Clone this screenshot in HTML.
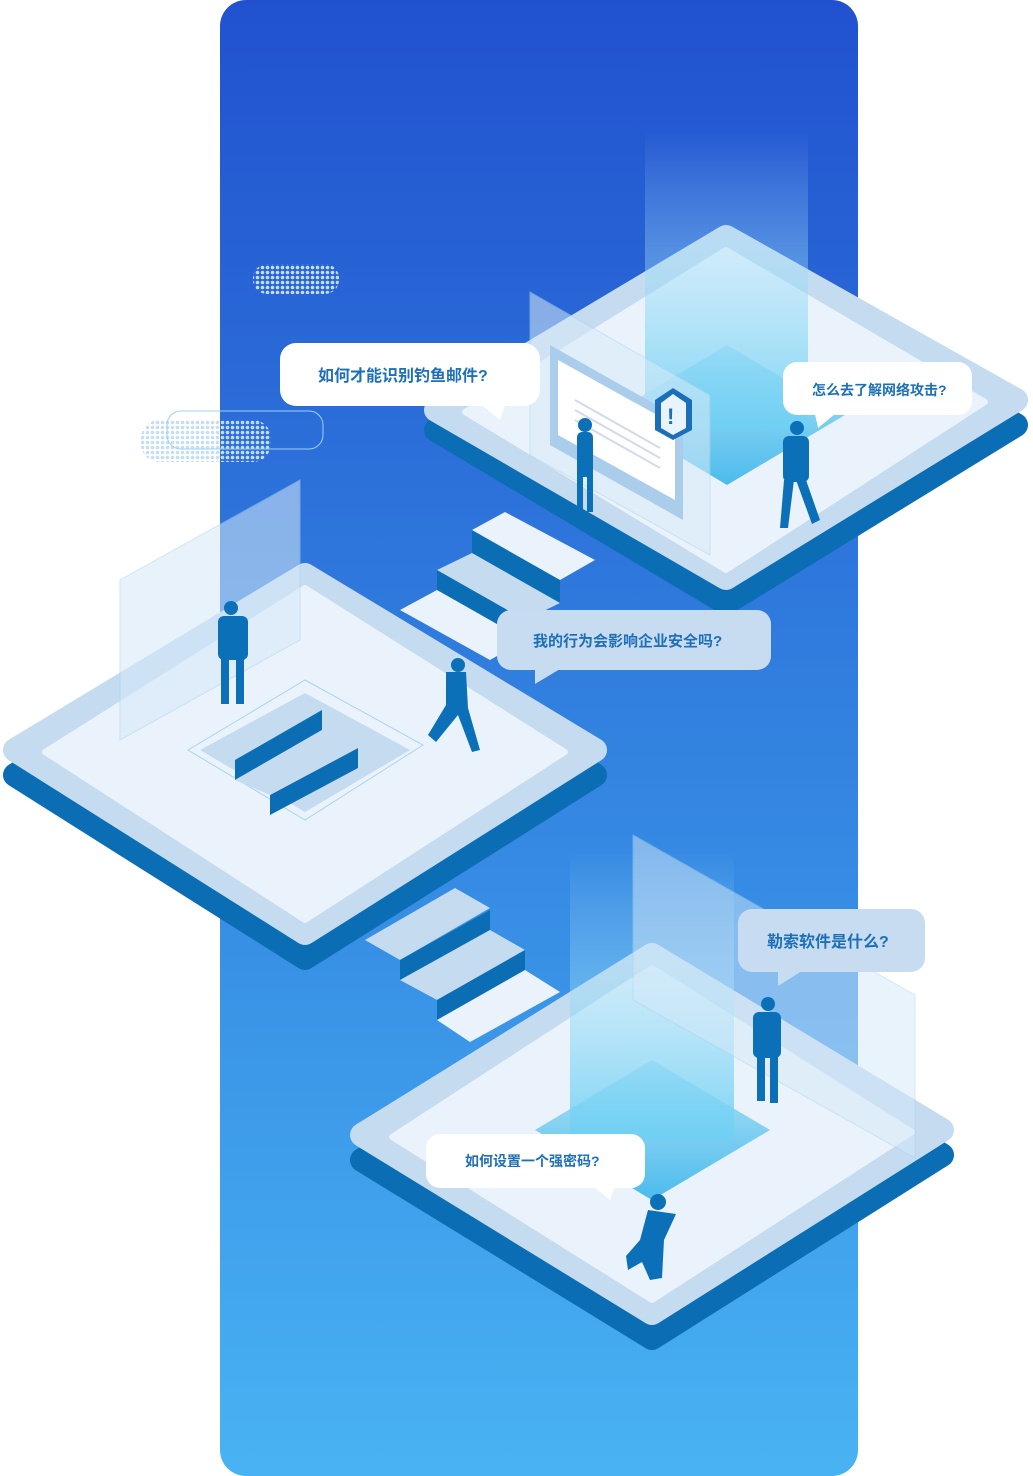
<!DOCTYPE html>
<html><head><meta charset="utf-8">
<style>
html,body{margin:0;padding:0;background:#fff;}
svg{display:block;}
text{font-family:"Liberation Sans","Noto Sans CJK SC",sans-serif;font-weight:bold;fill:#1d6fb8;}
</style></head>
<body>
<svg width="1033" height="1476" viewBox="0 0 1033 1476" xmlns="http://www.w3.org/2000/svg">
<defs>
<linearGradient id="bg" x1="0" y1="0" x2="0" y2="1">
<stop offset="0" stop-color="#2151cf"/><stop offset="0.5" stop-color="#3282e0"/><stop offset="1" stop-color="#48b3f3"/>
</linearGradient>
<linearGradient id="beam" x1="0" y1="0" x2="0" y2="1">
<stop offset="0" stop-color="#bfe6fb" stop-opacity="0"/><stop offset="1" stop-color="#6fd0f3" stop-opacity="0.9"/>
</linearGradient>
<linearGradient id="hole" x1="0" y1="0" x2="0" y2="1">
<stop offset="0" stop-color="#b6e3f7"/><stop offset="1" stop-color="#4bbcec"/>
</linearGradient>
<pattern id="dots" width="5" height="5" patternUnits="userSpaceOnUse"><circle cx="2.5" cy="2.5" r="1.8" fill="#c4def6"/></pattern>
</defs>
<rect x="220" y="0" width="638" height="1476" rx="26" fill="url(#bg)"/>

<!-- dotted bubbles -->
<rect x="253" y="264" width="86" height="30" rx="14" fill="url(#dots)"/>
<rect x="141" y="420" width="130" height="42" rx="18" fill="url(#dots)"/>
<rect x="167" y="411" width="156" height="38" rx="14" fill="none" stroke="#9fd0f5" stroke-width="1"/>

<g stroke-linejoin="round">
<!-- TOP RIGHT PLATFORM -->
<polygon points="726,262 1016,425 726,603 436,430" fill="#0b6db3" stroke="#0b6db3" stroke-width="24"/>
<polygon points="726,237 1016,400 726,578 436,410" fill="#c4dbf0" stroke="#c4dbf0" stroke-width="24"/>
<polygon points="726,250 985,402 726,570 465,412" fill="#eaf3fb" stroke="#eaf3fb" stroke-width="6"/>
</g>
<polygon points="727,345 845,415 727,485 610,415" fill="url(#hole)"/>
<rect x="645" y="130" width="163" height="300" fill="url(#beam)"/>
<!-- screen -->
<polygon points="530,292 710,395 710,555 530,455" fill="#d8eaf8" opacity="0.55" stroke="#a9d4f3"/>
<polygon points="550,345 683,420 683,520 550,445" fill="#a9cdea"/>
<polygon points="558,360 675,425 675,500 558,435" fill="#ffffff"/>
<g stroke="#d0dce8" stroke-width="2"><line x1="575" y1="400" x2="660" y2="448"/><line x1="575" y1="410" x2="660" y2="458"/><line x1="575" y1="420" x2="660" y2="468"/></g>
<polygon points="673,388 692,400 692,430 673,440 655,430 655,400" fill="#1b6fb8"/>
<polygon points="673,394 686,403 686,428 673,435 661,428 661,403" fill="#e9f3fb"/>
<text x="667" y="424" font-size="22" style="fill:#1b6fb8">!</text>
<g fill="#0c70b8">
<circle cx="585" cy="425" r="7"/><rect x="577" y="432" width="16" height="45" rx="5"/><rect x="577" y="470" width="6" height="42"/><rect x="587" y="470" width="6" height="42"/>
<circle cx="797" cy="428" r="7"/><rect x="783" y="436" width="26" height="46" rx="6"/><polygon points="784,480 794,480 788,528 780,528"/><polygon points="796,480 806,480 820,520 812,524"/>
</g>

<!-- stairs top -> middle -->
<polygon points="472,530 560,580 560,603 472,553" fill="#0b6db3"/>
<polygon points="505,512 595,560 560,580 472,530" fill="#eaf3fb"/>
<polygon points="437,570 525,620 525,640 437,590" fill="#0b6db3"/>
<polygon points="472,553 560,603 525,620 437,570" fill="#c4dbf0"/>
<polygon points="400,610 437,590 525,640 490,660" fill="#eaf3fb"/>

<g stroke-linejoin="round">
<!-- MIDDLE PLATFORM -->
<polygon points="305,600 595,775 305,958 15,775" fill="#0b6db3" stroke="#0b6db3" stroke-width="24"/>
<polygon points="305,575 595,750 305,933 15,750" fill="#c4dbf0" stroke="#c4dbf0" stroke-width="24"/>
<polygon points="305,588 565,752 305,920 45,752" fill="#eaf3fb" stroke="#eaf3fb" stroke-width="6"/>
</g>
<polygon points="120,580 300,480 300,640 120,740" fill="#d5e9f8" opacity="0.55" stroke="#a9d4f3"/>
<polygon points="305,680 423,745 305,820 188,750" fill="#eaf3fb" stroke="#a9d4f3"/>
<polygon points="305,693 410,750 305,812 200,750" fill="#c4dbf0"/>
<polygon points="235,760 322,710 322,730 235,780" fill="#0b6db3"/>
<polygon points="270,795 358,748 358,768 270,815" fill="#0b6db3"/>
<polygon points="235,780 322,730 358,748 270,795" fill="#c4dbf0"/>
<g fill="#0c70b8">
<circle cx="231" cy="608" r="7"/><rect x="218" y="616" width="30" height="44" rx="6"/><rect x="221" y="656" width="8" height="48"/><rect x="236" y="656" width="8" height="48"/>
<circle cx="458" cy="665" r="7"/><path d="M446 672 L466 672 L468 708 L480 750 L472 752 L458 715 L436 742 L428 735 L446 705 Z"/>
</g>

<!-- stairs middle -> bottom -->
<polygon points="365,940 455,888 490,908 400,960" fill="#c4dbf0"/>
<polygon points="400,960 490,910 490,930 400,980" fill="#0b6db3"/>
<polygon points="400,980 490,930 525,950 437,1000" fill="#c4dbf0"/>
<polygon points="437,1000 525,950 525,970 437,1020" fill="#0b6db3"/>
<polygon points="437,1020 525,970 560,992 470,1042" fill="#eaf3fb"/>

<g stroke-linejoin="round">
<!-- BOTTOM PLATFORM -->
<polygon points="652,980 942,1155 652,1338 362,1160" fill="#0b6db3" stroke="#0b6db3" stroke-width="24"/>
<polygon points="652,955 942,1130 652,1313 362,1135" fill="#c4dbf0" stroke="#c4dbf0" stroke-width="24"/>
<polygon points="652,968 912,1132 652,1300 392,1137" fill="#eaf3fb" stroke="#eaf3fb" stroke-width="6"/>
</g>
<polygon points="652,1060 770,1130 652,1200 535,1130" fill="url(#hole)"/>
<rect x="570" y="850" width="164" height="290" fill="url(#beam)"/>
<polygon points="633,835 915,995 915,1158 633,1000" fill="#d5e9f8" opacity="0.5" stroke="#a9d4f3"/>
<g fill="#0c70b8">
<circle cx="768" cy="1004" r="7"/><rect x="753" y="1012" width="28" height="46" rx="6"/><rect x="757" y="1055" width="8" height="46"/><rect x="770" y="1055" width="8" height="48"/>
<circle cx="658" cy="1202" r="8"/><path d="M648 1210 L676 1214 L664 1240 L662 1278 L650 1280 L642 1262 L628 1270 L626 1256 L640 1240 Z"/>
</g>

<!-- speech bubbles -->
<g>
<rect x="280" y="343" width="260" height="63" rx="16" fill="#fff"/>
<polygon points="482,405 505,405 500,420" fill="#fff"/>
<text x="318" y="381" font-size="16">如何才能识别钓鱼邮件?</text>

<rect x="783" y="362" width="189" height="53" rx="14" fill="#fff"/>
<polygon points="815,414 835,414 818,428" fill="#fff"/>
<text x="812" y="395" font-size="14">怎么去了解网络攻击?</text>

<rect x="497" y="610" width="274" height="60" rx="14" fill="#c8dcf1"/>
<polygon points="535,669 560,669 535,684" fill="#c8dcf1"/>
<text x="533" y="646" font-size="15">我的行为会影响企业安全吗?</text>

<rect x="738" y="909" width="187" height="63" rx="14" fill="#c8dcf1"/>
<polygon points="778,971 802,971 778,986" fill="#c8dcf1"/>
<text x="767" y="947" font-size="16">勒索软件是什么?</text>

<rect x="426" y="1134" width="219" height="54" rx="14" fill="#fff"/>
<polygon points="594,1187 615,1187 610,1200" fill="#fff"/>
<text x="465" y="1166" font-size="14">如何设置一个强密码?</text>
</g>
</svg>
</body></html>
